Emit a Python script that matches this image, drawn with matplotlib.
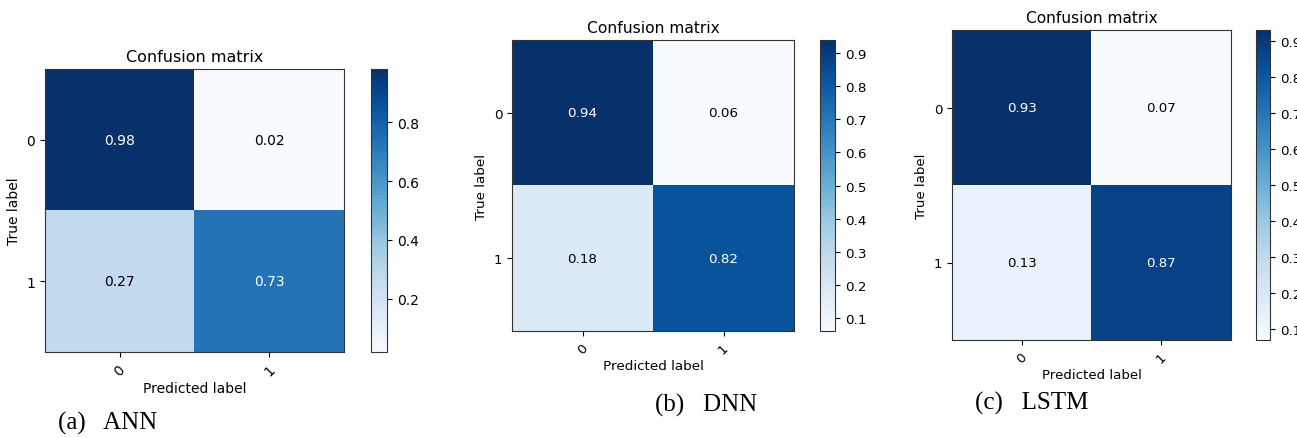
import numpy as np
import matplotlib
matplotlib.use("Agg")
import matplotlib.pyplot as plt

classes = ["0", "1"]

cm_ann = np.array([[0.98, 0.02],
                   [0.27, 0.73]])
cm_dnn = np.array([[0.94, 0.06],
                   [0.18, 0.82]])
cm_lstm = np.array([[0.93, 0.07],
                    [0.13, 0.87]])

captions = ["(a)   ANN", "(b)   DNN", "(c)   LSTM"]
cbar_ticks = [[0.2, 0.4, 0.6, 0.8],
              [0.1, 0.2, 0.3, 0.4, 0.5, 0.6, 0.7, 0.8, 0.9],
              [0.1, 0.2, 0.3, 0.4, 0.5, 0.6, 0.7, 0.8, 0.9]]

W, H = 1297, 439
fig = plt.figure(figsize=(W / 100, H / 100), dpi=100)


def px_axes(x0, y0, x1, y1):
    # pixel box (top-left origin) -> figure fraction
    return fig.add_axes([x0 / W, (H - y1) / H, (x1 - x0) / W, (y1 - y0) / H])


# axes box, colorbar box, caption position, font size scale
layout = [
    ((45, 70, 344, 353), (371, 70, 387, 353), (58, 423), 1.0),
    ((512, 41, 794, 332), (820, 41, 835, 332), (655, 405), 0.97),
    ((952, 31, 1231, 341), (1256, 31, 1270, 341), (975, 403), 0.96),
]

for cm, cap, ticks, (abox, cbox, cpos, s) in zip([cm_ann, cm_dnn, cm_lstm], captions, cbar_ticks, layout):
    ax = px_axes(*abox)
    cax = px_axes(*cbox)
    im = ax.imshow(cm, interpolation="nearest", cmap=plt.cm.Blues, aspect="auto")
    ax.set_title("Confusion matrix", fontsize=11.5 * s)
    cb = fig.colorbar(im, cax=cax, ticks=ticks)
    cb.ax.tick_params(labelsize=10 * s)
    cb.outline.set_edgecolor("#333333")
    ax.set_xticks(np.arange(len(classes)))
    ax.set_xticklabels(classes, rotation=45, fontsize=10 * s)
    ax.set_yticks(np.arange(len(classes)))
    ax.set_yticklabels(classes, fontsize=10 * s)
    thresh = cm.max() / 2.0
    for i in range(cm.shape[0]):
        for j in range(cm.shape[1]):
            ax.text(j, i, format(cm[i, j], ".2f"), ha="center", va="center",
                    fontsize=10 * s, color="white" if cm[i, j] > thresh else "black")
    ax.set_ylabel("True label", fontsize=10 * s)
    ax.set_xlabel("Predicted label", fontsize=10 * s, labelpad=2)
    for sp in ax.spines.values():
        sp.set_edgecolor("#333333")
    fig.text(cpos[0] / W, 1 - cpos[1] / H, cap, family="Liberation Serif",
             fontsize=18, ha="left", va="center")

fig.savefig("out.png", dpi=100)
